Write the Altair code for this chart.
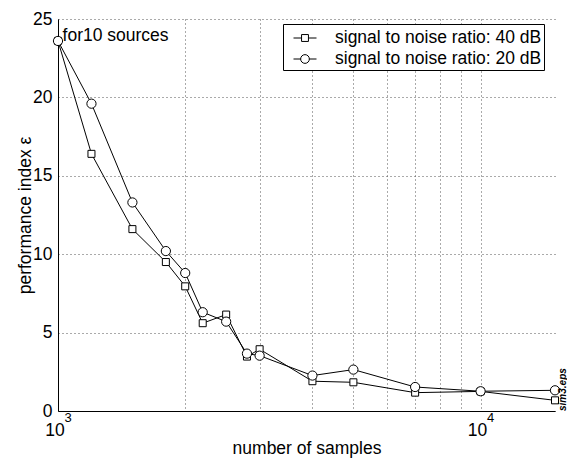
import altair as alt
import pandas as pd

# ---- data ----
samples = [1000, 1200, 1500, 1800, 2000, 2200, 2500, 2800, 3000, 4000, 5000, 7000, 10000, 15000]
snr40 = [23.6, 16.4, 11.6, 9.5, 7.95, 5.6, 6.15, 3.47, 3.94, 1.9, 1.83, 1.17, 1.25, 0.68]
snr20 = [23.6, 19.6, 13.3, 10.2, 8.8, 6.3, 5.7, 3.66, 3.53, 2.26, 2.64, 1.53, 1.26, 1.32]
series_labels = ["signal to noise ratio: 40 dB", "signal to noise ratio: 20 dB"]
x_ticks = [1000, 2000, 3000, 4000, 5000, 6000, 7000, 8000, 9000, 10000]
x_label_ticks = [1000, 10000]
x_label_exps = ["3", "4"]
y_ticks = [0, 5, 10, 15, 20, 25]
note_text = ["for10 sources"]
note_x = [1025]
note_y = [23.6]
file_tag = ["sim3.eps"]

n = len(samples)
df = pd.DataFrame({
    "samples": samples * 2,
    "eps": snr40 + snr20,
    "series": [series_labels[0]] * n + [series_labels[1]] * n,
})

FONT = "Liberation Sans"
FS = 17.5
xscale = alt.Scale(type="log", domain=[1000, 15000], nice=False)

xenc = alt.X(
    "samples:Q",
    scale=xscale,
    axis=alt.Axis(
        values=x_ticks,
        labelExpr="(datum.value == 1000 || datum.value == 10000) ? '10' : ''",
        labelOverlap=False,
        labelFlush=False,
        labelPadding=10,
        labelOffset=-3.5,
        labelBaseline="top",
        title="number of samples",
        titleY=42,
        titleBaseline="alphabetic",
    ),
)
yenc = alt.Y(
    "eps:Q",
    scale=alt.Scale(domain=[0, 25], nice=False),
    axis=alt.Axis(
        values=y_ticks,
        labelFlush=False,
        labelPadding=6,
        title="performance index \u03b5",
        titleX=-28,
        titleBaseline="alphabetic",
    ),
)

base = alt.Chart(df)

lines = base.mark_line(color="black", strokeWidth=1).encode(
    x=xenc, y=yenc, detail="series:N"
)

squares = base.transform_filter(alt.datum.series == series_labels[0]).mark_point(
    shape="square", size=49, filled=True, fill="white", stroke="black",
    strokeWidth=1, opacity=1
).encode(x=xenc, y=yenc)

circles = base.transform_filter(alt.datum.series == series_labels[1]).mark_point(
    shape="circle", size=85, filled=True, fill="white", stroke="black",
    strokeWidth=1, opacity=1
).encode(x=xenc, y=yenc)

sq_path = "M-1,0H-0.3M0.3,0H1M-0.3,-0.3H0.3V0.3H-0.3Z"
ci_path = ("M-1,0H-0.38M0.38,0H1M-0.38,0A0.38,0.38 0 1 0 0.38,0"
           "A0.38,0.38 0 1 0 -0.38,0Z")

legend_layer = base.transform_filter("datum.eps < 0").mark_point(
    filled=False, stroke="black", strokeWidth=1, opacity=1
).encode(
    shape=alt.Shape(
        "series:N",
        scale=alt.Scale(domain=series_labels, range=[sq_path, ci_path]),
        legend=alt.Legend(
            title=None,
            orient="none",
            legendX=225,
            legendY=5,
            strokeColor="black",
            fillColor="white",
            padding=2,
            labelFontSize=FS,
            labelFont=FONT,
            labelColor="black",
            labelLimit=0,
            labelExpr="datum.label + '\u00a0\u00a0'",
            labelOffset=18,
            symbolOffset=8,
            symbolSize=529,
            symbolStrokeWidth=1,
            symbolStrokeColor="black",
            symbolOpacity=1,
            rowPadding=0,
            cornerRadius=0,
        ),
    )
)

note = alt.Chart(pd.DataFrame({"x": note_x, "y": note_y, "t": note_text})).mark_text(
    align="left", baseline="alphabetic", fontSize=FS, font=FONT, color="black"
).encode(
    x=alt.X("x:Q", scale=xscale),
    y=alt.Y("y:Q"),
    text="t:N",
)

exps = alt.Chart(pd.DataFrame({"x": x_label_ticks, "t": x_label_exps})).mark_text(
    align="left", baseline="alphabetic", fontSize=13, font=FONT, color="black", dx=6.5
).encode(
    x=alt.X("x:Q", scale=xscale),
    y=alt.value(403),
    text="t:N",
)

tag = alt.Chart(pd.DataFrame({"t": file_tag})).mark_text(
    align="left", baseline="middle", angle=270, fontSize=10, font=FONT,
    fontStyle="italic", fontWeight="bold", color="black"
).encode(x=alt.value(505), y=alt.value(392), text="t:N")

chart = alt.layer(lines, squares, circles, legend_layer, note, exps, tag).properties(
    width=497,
    height=392,
    autosize=alt.AutoSizeParams(type="none"),
    padding={"left": 50, "top": 11, "right": 12, "bottom": 47},
).configure(
    font=FONT,
).configure_view(
    stroke=None
).configure_axis(
    labelFont=FONT,
    titleFont=FONT,
    labelFontSize=FS,
    titleFontSize=FS,
    titleFontWeight="normal",
    labelColor="black",
    titleColor="black",
    domainColor="black",
    domainWidth=1,
    ticks=False,
    grid=True,
    gridColor="#555555",
    gridDash=[1, 3],
    gridWidth=1,
    gridOpacity=1,
)

chart.save("out.html", embed_options={"renderer": "svg", "actions": False})
